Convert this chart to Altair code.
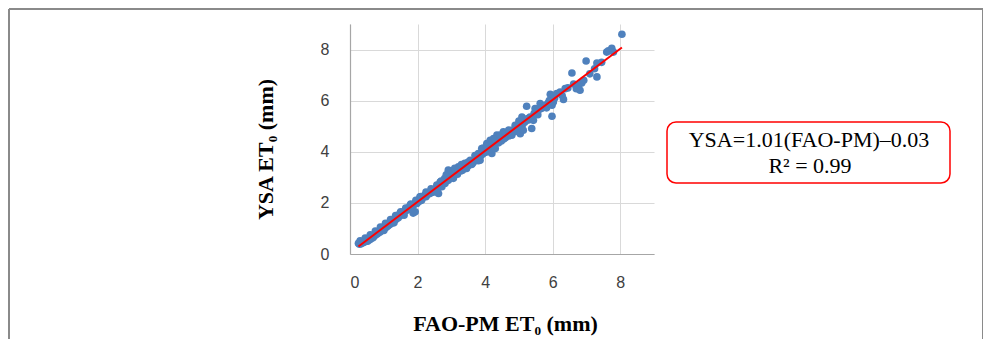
import altair as alt
import pandas as pd

# FAO-PM ET0 (x) vs YSA ET0 (y)
low_points = [
    (0.25, 0.42), (0.28, 0.38), (0.30, 0.45), (0.33, 0.40), (0.35, 0.48), (0.38, 0.44),
    (0.40, 0.50), (0.42, 0.46), (0.45, 0.52), (0.48, 0.50), (0.50, 0.55), (0.52, 0.50),
    (0.55, 0.60), (0.58, 0.56), (0.60, 0.62), (0.62, 0.60), (0.65, 0.68), (0.68, 0.64),
    (0.70, 0.72), (0.72, 0.70), (0.75, 0.80), (0.78, 0.76), (0.80, 0.82), (0.82, 0.80),
    (0.85, 0.88), (0.88, 0.85), (0.90, 0.94), (0.92, 0.90), (0.95, 0.98), (0.98, 0.95),
    (1.00, 1.05), (1.03, 1.00), (1.05, 1.08), (1.08, 1.06), (1.10, 1.14), (1.12, 1.10),
    (1.15, 1.20), (1.18, 1.15), (1.20, 1.26), (1.22, 1.20), (1.25, 1.33), (1.28, 1.28),
    (1.30, 1.36), (1.33, 1.32), (1.35, 1.46), (1.38, 1.38), (1.40, 1.44), (1.43, 1.42),
    (1.45, 1.50), (1.48, 1.59), (1.50, 1.52), (1.53, 1.55), (1.55, 1.60), (1.58, 1.65),
    (1.60, 1.62), (1.63, 1.68), (1.65, 1.70), (1.68, 1.78), (1.70, 1.72), (1.73, 1.75),
    (1.75, 1.82), (1.78, 1.91), (1.80, 1.84), (1.83, 1.86), (1.85, 1.90), (1.88, 1.92),
    (1.90, 1.95), (1.93, 1.65), (1.95, 2.00), (1.98, 1.98), (2.00, 2.05), (2.03, 2.11),
    (2.05, 2.06), (2.07, 2.24), (2.10, 2.15), (2.12, 2.10),
]
mid_points = [
    (2.15, 2.20), (2.20, 2.28), (2.22, 2.30), (2.25, 2.24), (2.28, 2.32), (2.32, 2.37),
    (2.35, 2.36), (2.40, 2.40), (2.45, 2.42), (2.50, 2.45), (2.52, 2.50), (2.55, 2.52),
    (2.57, 2.70), (2.60, 2.58), (2.62, 2.37), (2.65, 2.62), (2.67, 2.82), (2.70, 2.68),
    (2.72, 2.63), (2.75, 2.75), (2.78, 2.80), (2.81, 2.76), (2.85, 2.85), (2.88, 2.92),
    (2.91, 2.89), (2.91, 3.28), (2.95, 3.05), (2.96, 3.21), (3.00, 3.00), (3.03, 3.10),
    (3.06, 2.96), (3.08, 3.15), (3.11, 3.28), (3.15, 3.20), (3.18, 3.12), (3.21, 3.41),
    (3.25, 3.30), (3.28, 3.25), (3.30, 3.35), (3.33, 3.28), (3.36, 3.41), (3.40, 3.38),
    (3.43, 3.42), (3.46, 3.54), (3.50, 3.45), (3.53, 3.50), (3.56, 3.67), (3.60, 3.60),
    (3.63, 3.55), (3.66, 3.62), (3.70, 3.65), (3.73, 3.70), (3.75, 3.80), (3.78, 3.72),
    (3.80, 3.93), (3.83, 3.78), (3.85, 3.67), (3.88, 3.85), (3.90, 4.13), (3.93, 3.92),
    (3.96, 3.95), (4.00, 4.05), (4.02, 3.98), (4.05, 4.32), (4.08, 4.10), (4.10, 4.20),
    (4.12, 4.02), (4.15, 4.45), (4.15, 4.00), (4.18, 4.15), (4.20, 3.93), (4.22, 4.25),
    (4.25, 4.52), (4.28, 4.30), (4.30, 4.13), (4.32, 4.40), (4.35, 4.65), (4.38, 4.45),
    (4.40, 4.35), (4.42, 4.50), (4.45, 4.55), (4.48, 4.42), (4.50, 4.60), (4.54, 4.78),
    (4.57, 4.62), (4.60, 4.55), (4.63, 4.68), (4.66, 4.70), (4.70, 4.62), (4.73, 4.80),
    (4.76, 4.72), (4.79, 4.65), (4.82, 4.85), (4.85, 4.78), (4.89, 5.04), (4.92, 4.90),
    (4.95, 5.00), (4.98, 4.85),
]
band_points = [
    (0.30, 0.52), (0.45, 0.62), (0.60, 0.75), (0.75, 0.90), (0.90, 1.05), (1.05, 1.20),
    (1.20, 1.35), (1.35, 1.50), (1.50, 1.65), (1.65, 1.80), (1.80, 1.95), (1.95, 2.10),
    (2.10, 2.25), (1.00, 0.92), (1.30, 1.22), (1.60, 1.52), (1.87, 1.60), (2.25, 2.42),
    (2.40, 2.55), (2.55, 2.45), (2.70, 2.85), (2.80, 2.95), (2.85, 3.10), (3.00, 3.25),
    (3.10, 3.35), (3.20, 3.30), (3.30, 3.50), (3.40, 3.55), (3.50, 3.60), (3.45, 3.35),
    (3.60, 3.50), (3.70, 3.85), (3.80, 3.65), (3.95, 4.15), (4.05, 4.20), (4.20, 4.35),
    (4.30, 4.50), (4.45, 4.65), (4.55, 4.50), (4.60, 4.75), (4.70, 4.85), (4.80, 4.75),
    (4.90, 4.80), (5.00, 5.20), (5.10, 5.05),
]
high_points = [
    (5.02, 5.10), (5.04, 4.71), (5.07, 5.00), (5.09, 5.36), (5.09, 5.23), (5.13, 4.84),
    (5.16, 5.15), (5.20, 5.20), (5.23, 5.78), (5.26, 5.30), (5.30, 5.25), (5.33, 5.36),
    (5.38, 4.91), (5.43, 5.23), (5.45, 5.50), (5.48, 5.69), (5.52, 5.55), (5.56, 5.45),
    (5.60, 5.65), (5.63, 5.89), (5.68, 5.70), (5.73, 5.75), (5.78, 5.82), (5.82, 5.72),
    (5.86, 5.90), (5.90, 6.00), (5.93, 6.25), (5.98, 5.82), (5.98, 5.39), (6.02, 5.95),
    (6.06, 6.10), (6.12, 6.28), (6.22, 6.34), (6.28, 6.20), (6.32, 6.05), (6.37, 6.47),
    (6.45, 6.50), (6.57, 7.08), (6.62, 6.65), (6.70, 6.47), (6.77, 6.60), (6.81, 6.41),
    (6.86, 6.69), (6.92, 6.80), (6.99, 7.55), (7.10, 7.05), (7.24, 7.25), (7.31, 7.47),
    (7.31, 6.93), (7.45, 7.50), (7.60, 7.90), (7.65, 7.95), (7.75, 8.05), (7.80, 7.90),
    (8.05, 8.60),
]
axis_ticks = [0, 2, 4, 6, 8]
equation_text = "YSA=1.01(FAO-PM)\u20130.03"
r2_text = "R\u00b2 = 0.99"
x_title = "FAO-PM ET\u2080 (mm)"
y_title = "YSA ET\u2080 (mm)"

pts = low_points + mid_points + band_points + high_points
df = pd.DataFrame(pts, columns=["fao", "ysa"])

serif = "Liberation Serif"
one = pd.DataFrame({"k": [0]})

xs = alt.Scale(domain=[0, 9], nice=False, zero=False)
ys = alt.Scale(domain=[0, 9], nice=False, zero=False)

base = alt.Chart(df)

points = base.mark_circle(size=58, color="#4F81BD", opacity=1).encode(
    x=alt.X("fao:Q", scale=xs, axis=alt.Axis(
        values=axis_ticks, title=x_title, grid=True, ticks=False, tickSize=0,
        labelPadding=20, titleX=155, titleY=76, titleBaseline="alphabetic")),
    y=alt.Y("ysa:Q", scale=ys, axis=alt.Axis(
        values=axis_ticks, title=y_title, grid=True, ticks=False, tickSize=0,
        labelPadding=21, titleX=-78, titleY=125, titleAngle=-90,
        titleBaseline="alphabetic")),
)

trend = base.transform_regression("fao", "ysa").mark_line(
    color="#FF0000", strokeWidth=2).encode(
    x=alt.X("fao:Q", scale=xs), y=alt.Y("ysa:Q", scale=ys))

box = alt.Chart(one).mark_rect(
    fill="white", stroke="#FF0000", strokeWidth=1.5, cornerRadius=9).encode(
    x=alt.value(317), x2=alt.value(600), y=alt.value(98), y2=alt.value(159))

eq1 = alt.Chart(one).mark_text(
    text=equation_text, font=serif, fontSize=22, color="#000000",
    align="center", baseline="alphabetic").encode(
    x=alt.value(459), y=alt.value(123))
eq2 = alt.Chart(one).mark_text(
    text=r2_text, font=serif, fontSize=22, color="#000000",
    align="center", baseline="alphabetic").encode(
    x=alt.value(460), y=alt.value(149))

frame_style = dict(color="#8A8A8A", strokeWidth=2)
f_top = alt.Chart(one).mark_rule(**frame_style).encode(
    x=alt.value(-341), x2=alt.value(633), y=alt.value(-15))
f_left = alt.Chart(one).mark_rule(**frame_style).encode(
    x=alt.value(-341), y=alt.value(-15), y2=alt.value(320))
f_right = alt.Chart(one).mark_rule(**frame_style).encode(
    x=alt.value(633), y=alt.value(-15), y2=alt.value(320))

chart = alt.layer(points, trend, box, eq1, eq2, f_top, f_left, f_right).properties(
    width=304, height=230,
    autosize=alt.AutoSizeParams(type="none"),
    padding={"left": 342, "top": 16, "right": 329, "bottom": 85},
).configure_view(stroke=None).configure_axis(
    gridColor="#D9D9D9", gridWidth=1, domainColor="#A6A6A6", domainWidth=1.2,
    labelFont="Liberation Sans", labelFontSize=16, labelColor="#404040",
    titleFont=serif, titleFontSize=22, titleFontWeight="bold", titleColor="#000000",
)

chart.save("out.html", embed_options={"renderer": "svg", "actions": False})
